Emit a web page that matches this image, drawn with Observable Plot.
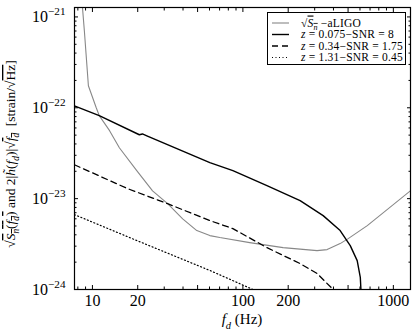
<!DOCTYPE html>
<html><head><meta charset="utf-8">
<script src="https://cdn.jsdelivr.net/npm/d3@7"></script>
<script src="https://cdn.jsdelivr.net/npm/@observablehq/plot@0.6"></script>
<style>body{margin:0;background:#fff} svg{font-family:"Liberation Serif",serif}</style>
</head><body><div id="chart"></div>
<script>
// aLIGO noise curve sqrt(S_n)
const aligoF = [8.3, 8.58, 8.84, 9.40, 10.6, 11.1, 13.0, 15.1, 19.7, 25.1, 31.6, 39.8, 49.4, 60.3, 70.3, 111, 185, 311, 363, 443, 501, 671, 1298];
const aligoV = [2.0e-21, 1.29e-21, 7.0e-22, 1.75e-22, 1.0e-22, 8.2e-23, 5.6e-23, 3.63e-23, 2.03e-23, 1.22e-23, 8.8e-24, 6.0e-24, 4.45e-24, 3.92e-24, 3.73e-24, 3.28e-24, 2.89e-24, 2.68e-24, 2.75e-24, 3.2e-24, 3.63e-24, 5.05e-24, 1.22e-23];
// z = 0.075, SNR = 8
const snr8F = [7.59, 11.1, 20.5, 21.5, 23.0, 60.3, 85.8, 144.5, 240, 341.5, 443, 517, 575, 603, 622];
const snr8V = [1.05e-22, 8.2e-23, 5.05e-23, 5.15e-23, 4.9e-23, 2.49e-23, 2.03e-23, 1.39e-23, 9.5e-24, 6.5e-24, 4.45e-24, 3.04e-24, 2.08e-24, 1.36e-24, 5e-25];
// z = 0.34, SNR = 1.75
const snr175F = [7.59, 17.1, 31.6, 60.3, 85.8, 144.5, 240, 311, 398, 430];
const snr175V = [2.36e-23, 1.29e-23, 8.8e-24, 5.73e-24, 4.68e-24, 2.89e-24, 1.93e-24, 1.5e-24, 1.0e-24, 7e-25];
// z = 1.31, SNR = 0.45
const snr045F = [7.59, 19.7, 60.3, 116.6, 130];
const snr045V = [6.67e-24, 3.46e-24, 1.62e-24, 1.0e-24, 8.5e-25];

const xTickLabels = [10, 20, 50, 100, 200, 500, 1000];
const xMinorTicks = [8, 9, 30, 40, 60, 70, 80, 90, 300, 400, 600, 700, 800, 900];
const yMajorTicks = [1e-24, 1e-23, 1e-22, 1e-21];
const yMinorTicks = [2,3,4,5,6,7,8,9].flatMap(m => [m*1e-24, m*1e-23, m*1e-22]);
const legendLabels = [
  [{t:"√"},{t:"S",it:1,ov:1},{t:"n",it:1,sub:1,ov:1},{t:" −aLIGO"}],
  [{t:"z",it:1},{t:" = 0.075−SNR = 8"}],
  [{t:"z",it:1},{t:" = 0.34−SNR = 1.75"}],
  [{t:"z",it:1},{t:" = 1.31−SNR = 0.45"}]
];
const styles = [
  {stroke:"#888", width:1.1, dash:null},
  {stroke:"#000", width:1.4, dash:null},
  {stroke:"#000", width:1.3, dash:"6,4"},
  {stroke:"#000", width:1.2, dash:"1,2.5"}
];

const toRows = (F, V) => F.map((f, i) => ({f, v: V[i]}));
const series = [toRows(aligoF, aligoV), toRows(snr8F, snr8V), toRows(snr175F, snr175V), toRows(snr045F, snr045V)];

const blank = () => "";
const plot = Plot.plot({
  width: 415, height: 332,
  marginLeft: 74, marginRight: 5, marginTop: 7, marginBottom: 43,
  style: {fontFamily: "Liberation Serif", fontSize: "16px", background: "white", color: "#000"},
  x: {type: "log", domain: [7.6, 1300]},
  y: {type: "log", domain: [1e-24, 1.27e-21]},
  marks: [
    ...series.map((d, i) => Plot.line(d, {x: "f", y: "v", stroke: styles[i].stroke, strokeWidth: styles[i].width, strokeDasharray: styles[i].dash, clip: true})),
    Plot.frame({stroke: "#000", strokeWidth: 1.2}),
    Plot.axisX({ticks: xTickLabels, tickSize: 0, tickPadding: 5, tickFormat: d => String(d), label: null, fontSize: 16}),
    Plot.axisX({ticks: xTickLabels, tickSize: -4, tickFormat: blank, label: null}),
    Plot.axisX({ticks: xMinorTicks, tickSize: -2.5, tickFormat: blank, label: null}),
    Plot.axisX({anchor: "top", ticks: xTickLabels, tickSize: -4, tickFormat: blank, label: null}),
    Plot.axisX({anchor: "top", ticks: xMinorTicks, tickSize: -2.5, tickFormat: blank, label: null}),
    Plot.axisY({ticks: yMajorTicks, tickSize: 0, tickPadding: 9, tickFormat: d => "e" + Math.round(Math.log10(d)), label: null, fontSize: 16}),
    Plot.axisY({ticks: yMajorTicks, tickSize: -4, tickFormat: blank, label: null}),
    Plot.axisY({ticks: yMinorTicks, tickSize: -2.5, tickFormat: blank, label: null}),
    Plot.axisY({anchor: "right", ticks: yMajorTicks, tickSize: -4, tickFormat: blank, label: null}),
    Plot.axisY({anchor: "right", ticks: yMinorTicks, tickSize: -2.5, tickFormat: blank, label: null})
  ]
});
document.getElementById("chart").appendChild(plot);

function rich(sel, segs, size) {
  let shift = 0;
  for (const s of segs) {
    const t = sel.append("tspan").text(s.t);
    const target = s.sub ? size * 0.3 : s.sup ? -size * 0.42 : 0;
    if (target !== shift) { t.attr("dy", target - shift); shift = target; }
    if (s.sub || s.sup) t.attr("font-size", size * 0.7);
    if (s.it) t.attr("font-style", "italic");
    if (s.ov) t.attr("text-decoration", "overline");
  }
}

const svg = d3.select(plot);
// y tick labels as 10^n with superscripts
svg.selectAll("text").each(function() {
  const s = this.textContent;
  if (/^e-?\d+$/.test(s)) {
    const n = s.slice(1).replace("-", "−");
    const sel = d3.select(this);
    sel.text("");
    rich(sel, [{t: "10"}, {t: n, sup: 1}], 16);
  }
});

// axis labels
const xl = svg.append("text").attr("x", 242).attr("y", 324).attr("text-anchor", "middle").attr("font-size", 15);
rich(xl, [{t:"f",it:1},{t:"d",it:1,sub:1},{t:" (Hz)"}], 15);
const yl = svg.append("text").attr("transform", "translate(15,154) rotate(-90)").attr("text-anchor", "middle").attr("font-size", 13.5);
rich(yl, [{t:"√"},{t:"S",it:1,ov:1},{t:"n",it:1,sub:1,ov:1},{t:"(",ov:1},{t:"f",it:1,ov:1},{t:"d",it:1,sub:1,ov:1},{t:")",ov:1},
  {t:" and 2|"},{t:"h̃",it:1},{t:"("},{t:"f",it:1},{t:"d",it:1,sub:1},{t:")|√"},{t:"f",it:1,ov:1},{t:"d",it:1,sub:1,ov:1},
  {t:"  [strain/√"},{t:"Hz",ov:1},{t:"]"}], 13.5);

// legend
const lg = svg.append("g");
lg.append("rect").attr("x", 267.5).attr("y", 12.5).attr("width", 138).attr("height", 52).attr("fill", "#fff").attr("stroke", "#000").attr("stroke-width", 1);
legendLabels.forEach((segs, i) => {
  const y = 23 + i * 11.5;
  lg.append("line").attr("x1", 272).attr("x2", 289).attr("y1", y).attr("y2", y)
    .attr("stroke", styles[i].stroke).attr("stroke-width", styles[i].width).attr("stroke-dasharray", styles[i].dash);
  const t = lg.append("text").attr("x", 301).attr("y", y + 3.5).attr("font-size", 11.5).attr("text-anchor", "start").attr("letter-spacing", 0.2);
  rich(t, segs, 11.5);
});
</script></body></html>
